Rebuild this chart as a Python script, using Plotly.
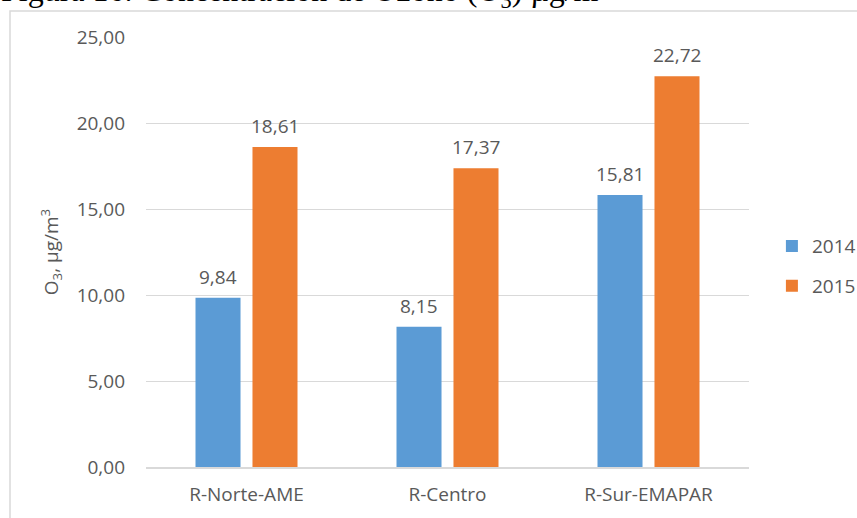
import plotly.graph_objects as go

categories = ["R-Norte-AME", "R-Centro", "R-Sur-EMAPAR"]
series_names = ["2014", "2015"]
values_2014 = [9.84, 8.15, 15.81]
values_2015 = [18.61, 17.37, 22.72]
y_ticks = [0, 5, 10, 15, 20, 25]
y_tick_labels = ["0,00", "5,00", "10,00", "15,00", "20,00", "25,00"]
title_text = "Figura 16. Concentración de Ozono (O<sub>3</sub>) µg/m<sup>3</sup>"

colors = ["#5B9BD5", "#ED7D31"]
txt = "#595959"
font_family = "Open Sans"
fs = 19

fig = go.Figure()
for i, (name, vals) in enumerate(zip(series_names, [values_2014, values_2015])):
    fig.add_trace(go.Bar(
        x=categories, y=vals, name=name, marker_color=colors[i],
        marker_line_width=0, legendgroup=name,
    ))
    for c, v in zip(categories, vals):
        fig.add_annotation(
            x=c, y=v, xref="x", yref="y",
            text=f"{v:.2f}".replace(".", ","),
            showarrow=False, yanchor="bottom",
            xshift=(-28.5 if i == 0 else 28.5), yshift=6,
            font=dict(family=font_family, size=fs, color=txt),
        )

fig.add_annotation(
    xref="paper", yref="paper", x=-0.243, y=1.050,
    xanchor="left", yanchor="bottom", showarrow=False,
    text=title_text,
    font=dict(family="Liberation Serif", size=32, color="#000000"),
)

# chart frame
fig.add_shape(type="rect", xref="paper", yref="paper",
              x0=(10 - 146) / 603, x1=1.3, y0=-0.3, y1=(467 - 11) / 430,
              line=dict(color="#D9D9D9", width=1.5), fillcolor="rgba(0,0,0,0)",
              layer="below")

fig.update_layout(
    width=857, height=518,
    margin=dict(l=146, r=108, t=37, b=51, autoexpand=False),
    paper_bgcolor="white", plot_bgcolor="white",
    barmode="group", bargap=0.433, bargroupgap=0.21,
    font=dict(family=font_family, size=fs, color=txt),
    showlegend=True,
    legend=dict(x=1.038, y=0.467, xanchor="left", yanchor="middle",
                font=dict(family=font_family, size=fs, color=txt),
                tracegroupgap=12, itemwidth=30,
                bgcolor="rgba(0,0,0,0)"),
    xaxis=dict(showgrid=False, showline=True, linecolor="#D9D9D9", linewidth=1.5,
               ticks="", tickfont=dict(size=fs, color=txt), ticklabelstandoff=9),
    yaxis=dict(range=[0, 25], tickvals=y_ticks, ticktext=y_tick_labels,
               showgrid=True, gridcolor="#D9D9D9", gridwidth=1,
               zeroline=False, showline=False, ticks="",
               tickfont=dict(size=fs, color=txt), ticklabelstandoff=20,
               title=dict(text="O<sub>3</sub>, µg/m<sup>3</sup>",
                          font=dict(size=fs, color=txt), standoff=12)),
)

fig.write_html("out.html")
